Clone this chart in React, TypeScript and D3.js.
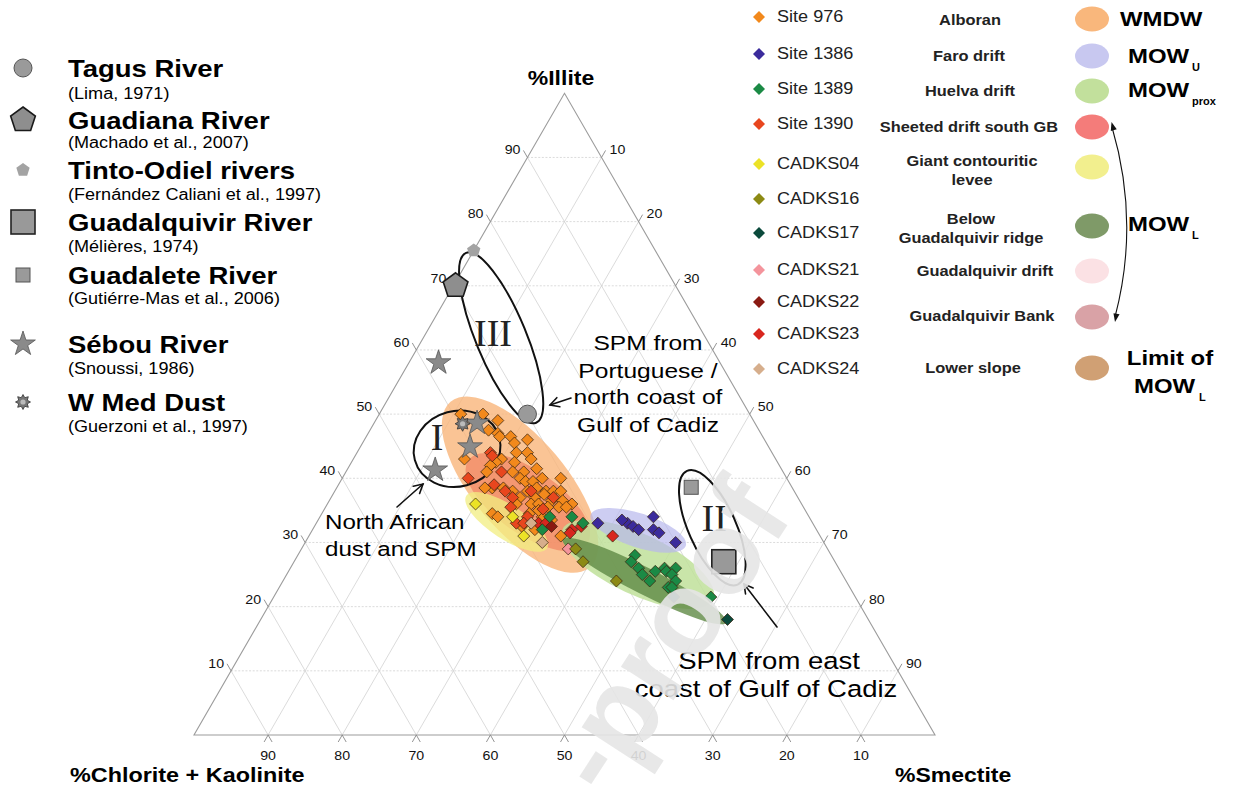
import React from "react";
import * as d3 from "d3";

// each point: [illite %, smectite %]; chlorite + kaolinite is the remainder
const site976: [number, number][] = [
  [50, 11], [50, 14], [49, 16.5], [47.5, 16], [47, 17.5], [46.5, 18], [46.5, 19.5], [45.5, 20.5],
  [46, 22], [44, 21.5], [44, 23], [43, 24], [42.5, 22], [43, 20], [42.5, 19.5], [42, 19], [43, 15],
  [41, 19], [41, 24], [41.5, 25.5], [41, 22.5], [40, 24], [39.5, 25], [39.5, 26], [40, 27], [40, 29.5],
  [38.5, 21], [38.5, 20], [38.5, 22.5], [38, 24], [38, 26], [38.5, 27], [38, 28.5], [38, 29.5],
  [38, 30.5], [37, 25.5], [37, 27.5], [37.5, 28.5], [36.5, 30], [36.5, 31.5], [36, 33], [36, 25.5],
  [36, 27.5], [36, 28.5], [35.5, 31.5], [35.5, 32.5], [35.5, 30], [34.5, 23], [34, 24], [34.5, 28],
  [34, 30], [33.5, 31.5], [32, 30], [31, 34], [32.5, 28], [35, 29],
];
const site1390: [number, number][] = [
  [44, 18], [43.5, 18.5], [41, 21], [40, 17], [38, 23], [37, 24.5], [35.5, 25], [34, 28], [33, 27],
  [37, 30], [39, 21], [35.2, 29.5], [38, 26.5], [33, 28],
];
const cadks23: [number, number][] = [[33, 30], [32, 35], [32.5, 36], [31.5, 35], [31, 41], [33, 31]];
const cadks22: [number, number][] = [[32.5, 32]];
const cadks04: [number, number][] = [[36, 20], [34, 26], [31, 29]];
const cadks24: [number, number][] = [[33, 29], [30, 32]];
const cadks21: [number, number][] = [[29, 36]];
const cadks16: [number, number][] = [[29, 37], [27, 39], [24, 45]];
const site1386: [number, number][] = [
  [33, 38], [33, 42], [32.5, 43], [32, 44], [33.5, 41], [34, 45], [32, 46], [31.5, 47], [30, 50],
];
const site1389: [number, number][] = [
  [34, 31], [34, 34], [32, 31], [33, 36], [28, 45.5], [27, 45.5], [26, 47], [25, 48], [24, 49.5],
  [25.5, 49.5], [26, 50.5], [25.5, 51], [26, 52], [25, 52], [24, 53], [23, 52.5], [23, 53], [21.5, 59],
];
const cadks17: [number, number][] = [[21.5, 54], [18, 63]];

// river / dust sources
const tagus: [number, number][] = [[50, 20]];
const guadiana: [number, number][] = [[70, 0.3]];
const tintoOdiel: [number, number][] = [[75.5, 0]];
const guadalquivir: [number, number][] = [[27, 58]];
const guadalete: [number, number][] = [[38.6, 47.8]];
const sebou: [number, number][] = [[58, 4], [48.6, 13.9], [44.9, 14.8], [41.3, 11.9]];
const wMedDust: [number, number][] = [[48.5, 12]];

// shaded water-mass fields: centre [illite, smectite], half axes (% of side), tilt (deg)
const zoneCentres: [number, number][] = [[39, 24.5], [36.3, 26.9], [33.2, 25.6], [26.6, 46.6], [24, 48.8], [31.9, 44]];
const zoneAxes: [number, number][] = [[14.6, 6.3], [9.8, 4.3], [6.5, 2.3], [11.2, 4.1], [12.4, 1.8], [6.75, 2.3]];
const zoneTilt = [50, 35, 33, 25, 27, 18];

// black loops I, II, III
const loopLabels = ["III", "I", "II"];
const loopCentres: [number, number][] = [[61.9, 10.5], [44.6, 13.2], [32.3, 53.8]];
const loopAxes: [number, number][] = [[12.4, 3.4], [5.9, 5.1], [8.4, 3.2]];
const loopTilt = [67.6, -15, 66];
const loopLabelPos: [number, number][] = [[62.6, 9.05], [46.4, 9.6], [33.8, 53.3]];

const siteNames = ["Site 976", "Site 1386", "Site 1389", "Site 1390", "CADKS04", "CADKS16", "CADKS17", "CADKS21", "CADKS22", "CADKS23", "CADKS24"];
const zoneNames = [["Alboran"], ["Faro drift"], ["Huelva drift"], ["Sheeted drift south GB"], ["Giant contouritic", "levee"], ["Below", "Guadalquivir ridge"], ["Guadalquivir drift"], ["Guadalquivir Bank"], ["Lower slope"]];
const sourceNames = ["Tagus River", "Guadiana River", "Tinto-Odiel rivers", "Guadalquivir River", "Guadalete River", "Sébou River", "W Med Dust"];
const sourceRefs = ["(Lima, 1971)", "(Machado et al., 2007)", "(Fernández Caliani et al., 1997)", " (Mélières, 1974)", " (Gutiérre-Mas et al., 2006)", "(Snoussi, 1986)", "(Guerzoni et al., 1997)"];
const ticks = [10, 20, 30, 40, 50, 60, 70, 80, 90];

const SANS = "'Liberation Sans', Arial, sans-serif";
const SERIF = "'Liberation Serif', 'Times New Roman', serif";

const side = 741;
const x0 = 194;
const base = 735;
const tri = (side * Math.sqrt(3)) / 2;
const xs = d3.scaleLinear().domain([0, 100]).range([x0, x0 + side]);
const ys = d3.scaleLinear().domain([0, 100]).range([base, base - tri]);
const proj = (il: number, sm: number): [number, number] => [xs(sm + il / 2), ys(il)];
const pct = side / 100;

const siteColors = ["#f2891c", "#3b2b9c", "#1b8a45", "#e8461e", "#ece226", "#8c8a14", "#0b4a3c", "#f4949c", "#8a1a12", "#d8261e", "#d6ae8c"];
const siteData = [site976, site1386, site1389, site1390, cadks04, cadks16, cadks17, cadks21, cadks22, cadks23, cadks24];
const drawOrder = [0, 3, 9, 8, 4, 10, 7, 5, 1, 2, 6];
const zoneColors = ["#f9b57a", "#f07a5a", "#f2ee80", "#c0e09a", "#5f8a45", "#b8b8ec"];
const zoneOpacity = [0.8, 0.6, 0.75, 0.85, 0.8, 0.7];
const swatchColors = ["#f9b77c", "#c8c8f0", "#c2e09c", "#f47c7a", "#f2ef8e", "#7f9a68", "#fbe1e4", "#d9a2a6", "#d0a074"];

const square = d3.symbol(d3.symbolSquare, 72)()!;
const legendSquare = d3.symbol(d3.symbolSquare, 72)()!;
const star = d3.symbol(d3.symbolStar, 190)()!;
const radial = d3.lineRadial<number>().curve(d3.curveLinearClosed);
const pentagon = (r: number) =>
  radial.angle((_, i) => (i * 2 * Math.PI) / 5).radius(r)(d3.range(5))!;
const gear = (r: number) =>
  radial.angle((_, i) => (i * 2 * Math.PI) / 16).radius((_, i) => (i % 2 ? r * 0.62 : r))(d3.range(16))!;

function Txt(p: {
  x: number; y: number; size: number; weight?: string; anchor?: string; family?: string;
  sx?: number; fill?: string; children: React.ReactNode;
}) {
  return (
    <text
      transform={`translate(${p.x},${p.y}) scale(${p.sx ?? 1.15},1)`}
      fontSize={p.size}
      fontWeight={p.weight ?? "normal"}
      textAnchor={p.anchor ?? "start"}
      dominantBaseline="central"
      fontFamily={p.family ?? SANS}
      fill={p.fill ?? "#000"}
    >
      {p.children}
    </text>
  );
}

function Arrow({ x1, y1, x2, y2 }: { x1: number; y1: number; x2: number; y2: number }) {
  const a = Math.atan2(y2 - y1, x2 - x1);
  const h = 10;
  const s = 0.5;
  return (
    <g stroke="#111" strokeWidth={1.6} fill="none" strokeLinecap="round">
      <line x1={x1} y1={y1} x2={x2} y2={y2} />
      <polyline
        points={`${x2 - h * Math.cos(a - s)},${y2 - h * Math.sin(a - s)} ${x2},${y2} ${x2 - h * Math.cos(a + s)},${y2 - h * Math.sin(a + s)}`}
      />
    </g>
  );
}

function head(tx: number, ty: number, fx: number, fy: number) {
  const a = Math.atan2(ty - fy, tx - fx);
  const h = 9;
  const s = 0.35;
  return `${tx},${ty} ${tx - h * Math.cos(a - s)},${ty - h * Math.sin(a - s)} ${tx - h * Math.cos(a + s)},${ty - h * Math.sin(a + s)}`;
}

function SourceMark({ kind, x, y }: { kind: number; x: number; y: number }) {
  const t = `translate(${x},${y})`;
  if (kind === 0) return <circle cx={x} cy={y} r={9} fill="#9a9a9a" stroke="#555" strokeWidth={1} />;
  if (kind === 1) return <path d={pentagon(13)} transform={t} fill="#8e8e8e" stroke="#1a1a1a" strokeWidth={1.6} />;
  if (kind === 2) return <path d={pentagon(7)} transform={t} fill="#a3a3a3" />;
  if (kind === 3) return <rect x={x - 12} y={y - 12} width={24} height={24} fill="#999" stroke="#222" strokeWidth={1.6} />;
  if (kind === 4) return <rect x={x - 7} y={y - 7} width={14} height={14} fill="#9a9a9a" stroke="#555" strokeWidth={1} />;
  if (kind === 5) return <path d={star} transform={t} fill="#8a8a8a" stroke="#555" strokeWidth={0.8} />;
  return (
    <g transform={t}>
      <path d={gear(7.5)} fill="#777" stroke="#333" strokeWidth={0.8} />
      <circle r={2.6} fill="#bbb" />
    </g>
  );
}

export default function App() {
  const sources = [tagus, guadiana, tintoOdiel, guadalquivir, guadalete, sebou, wMedDust];
  const srcY = [69, 121, 171, 223, 276, 345, 403];
  const refY = [94, 143, 195, 247, 299, 369, 427];
  const siteY = [17, 54, 89, 124, 164, 199, 233, 270, 302, 334, 369];
  const swY = [19, 56, 91, 127, 167, 226, 271, 317, 368];
  const zoneY = [[20], [56], [91], [127], [161, 180], [219, 238], [271], [316], [368]];
  const zoneX = [970, 969, 970, 969, 972, 971, 985, 982, 973];

  const grid = ticks.flatMap((v) => [
    { a: proj(v, 0), b: proj(v, 100 - v), dash: "2,1.6" },
    { a: proj(0, v), b: proj(100 - v, v), dash: undefined },
    { a: proj(0, 100 - v), b: proj(100 - v, 0), dash: undefined },
  ]);
  const corners = [proj(0, 0), proj(0, 100), proj(100, 0)];

  return (
    <svg width={1238} height={789} style={{ position: "absolute", left: 0, top: 0, display: "block", background: "#fff" }}>
      {/* grid */}
      {grid.map((g, i) => (
        <line key={i} x1={g.a[0]} y1={g.a[1]} x2={g.b[0]} y2={g.b[1]} stroke="#d2d2d2" strokeWidth={0.8} strokeDasharray={g.dash} />
      ))}
      <polygon points={corners.map((c) => c.join(",")).join(" ")} fill="none" stroke="#9c9c9c" strokeWidth={1.1} />

      {/* ticks and labels */}
      {ticks.map((v) => {
        const l = proj(v, 0);
        const r = proj(100 - v, v);
        const b = proj(0, 100 - v);
        return (
          <g key={v} stroke="#888" strokeWidth={0.9}>
            <line x1={l[0]} y1={l[1]} x2={l[0] - 4} y2={l[1] - 7} />
            <line x1={r[0]} y1={r[1]} x2={r[0] + 4} y2={r[1] - 7} />
            <polyline points={`${b[0] - 4},${b[1] + 7} ${b[0]},${b[1]} ${b[0] + 4},${b[1] + 7}`} fill="none" />
            <g stroke="none">
              <Txt x={l[0] - 7} y={l[1] - 8} size={13.5} anchor="end" sx={1.05} fill="#111">{v}</Txt>
              <Txt x={r[0] + 8} y={r[1] - 8} size={13.5} sx={1.05} fill="#111">{v}</Txt>
              <Txt x={b[0]} y={b[1] + 20} size={13.5} anchor="middle" sx={1.05} fill="#111">{v}</Txt>
            </g>
          </g>
        );
      })}

      <Txt x={561} y={78} size={20} weight="bold" anchor="middle" sx={1.15}>%Illite</Txt>
      <Txt x={70} y={775} size={20} weight="bold" sx={1.17}>%Chlorite + Kaolinite</Txt>
      <Txt x={895} y={775} size={20} weight="bold" sx={1.15}>%Smectite</Txt>

      {/* shaded fields */}
      {zoneCentres.map((c, i) => {
        const [cx, cy] = proj(c[0], c[1]);
        return (
          <ellipse key={i} cx={cx} cy={cy} rx={zoneAxes[i][0] * pct} ry={zoneAxes[i][1] * pct}
            transform={`rotate(${zoneTilt[i]},${cx},${cy})`} fill={zoneColors[i]} opacity={zoneOpacity[i]} />
        );
      })}

      {/* loops */}
      {loopCentres.map((c, i) => {
        const [cx, cy] = proj(c[0], c[1]);
        const [lx, ly] = proj(loopLabelPos[i][0], loopLabelPos[i][1]);
        return (
          <g key={i}>
            <ellipse cx={cx} cy={cy} rx={loopAxes[i][0] * pct} ry={loopAxes[i][1] * pct}
              transform={`rotate(${loopTilt[i]},${cx},${cy})`} fill="none" stroke="#111" strokeWidth={2} />
            <Txt x={lx} y={ly} size={38} family={SERIF} anchor="middle" sx={1} fill="#222">{loopLabels[i]}</Txt>
          </g>
        );
      })}

      {/* sample points */}
      {drawOrder.map((s) =>
        siteData[s].map((d, j) => {
          const [x, y] = proj(d[0], d[1]);
          return (
            <path key={`${s}-${j}`} d={square} transform={`translate(${x},${y}) rotate(45)`}
              fill={siteColors[s]} stroke="#3a2410" strokeWidth={0.7} />
          );
        })
      )}

      {/* sources */}
      {sources.map((src, k) =>
        src.map((d, j) => {
          const [x, y] = proj(d[0], d[1]);
          return <SourceMark key={`${k}-${j}`} kind={k} x={x} y={y} />;
        })
      )}

      {/* annotations */}
      {["SPM from", "Portuguese /", "north coast of", "Gulf of Cadiz"].map((t, i) => (
        <Txt key={t} x={648} y={[343, 371, 397, 425][i]} size={21} anchor="middle" sx={1.17}>{t}</Txt>
      ))}
      <Arrow x1={571} y1={398} x2={550} y2={405} />
      <Txt x={325} y={522} size={21} sx={1.15}>North African</Txt>
      <Txt x={325} y={549} size={21} sx={1.15}>dust and SPM</Txt>
      <Arrow x1={397} y1={507} x2={423} y2={484} />
      <Txt x={769} y={661} size={23.5} anchor="middle" sx={1.17}>SPM from east</Txt>
      <Txt x={766} y={689} size={23.5} anchor="middle" sx={1.17}>coast of Gulf of Cadiz</Txt>
      <Arrow x1={777} y1={627} x2={744} y2={584} />

      {/* left legend */}
      {sourceNames.map((n, k) => (
        <g key={n}>
          <SourceMark kind={k} x={23} y={srcY[k] - 1} />
          <Txt x={68} y={srcY[k]} size={23.5} weight="bold" sx={1.17}>{n}</Txt>
          <Txt x={68} y={refY[k]} size={16} sx={1.13}>{sourceRefs[k]}</Txt>
        </g>
      ))}

      {/* right legend */}
      {siteNames.map((n, i) => (
        <g key={n}>
          <path d={legendSquare} transform={`translate(759,${siteY[i]}) rotate(45)`} fill={siteColors[i]} />
          <Txt x={777} y={siteY[i]} size={16} sx={1.13} fill="#222">{n}</Txt>
        </g>
      ))}
      {zoneNames.map((lines, i) => (
        <g key={i}>
          {lines.map((t, j) => (
            <Txt key={t} x={zoneX[i]} y={zoneY[i][j]} size={14.5} weight="bold" anchor="middle" sx={1.13} fill="#222">{t}</Txt>
          ))}
          <ellipse cx={1092} cy={swY[i]} rx={17} ry={12.5} fill={swatchColors[i]} />
        </g>
      ))}
      <Txt x={1120} y={19} size={21} weight="bold" sx={1.14}>WMDW</Txt>
      <Txt x={1128} y={56} size={21} weight="bold" sx={1.14}>MOW</Txt>
      <Txt x={1192} y={67} size={10} weight="bold" sx={1.1}>U</Txt>
      <Txt x={1128} y={90} size={21} weight="bold" sx={1.14}>MOW</Txt>
      <Txt x={1192} y={101} size={10} weight="bold" sx={1.1}>prox</Txt>
      <Txt x={1128} y={224} size={21} weight="bold" sx={1.14}>MOW</Txt>
      <Txt x={1192} y={235} size={10} weight="bold" sx={1.1}>L</Txt>
      <Txt x={1170} y={358} size={21} weight="bold" anchor="middle" sx={1.14}>Limit of</Txt>
      <Txt x={1134} y={386} size={21} weight="bold" sx={1.14}>MOW</Txt>
      <Txt x={1199} y={397} size={10} weight="bold" sx={1.1}>L</Txt>
      <path d="M1112,127 Q1140,222 1115,317" fill="none" stroke="#111" strokeWidth={1.1} />
      <polygon points={head(1111.5, 122, 1118, 145)} fill="#111" />
      <polygon points={head(1115, 322, 1119, 300)} fill="#111" />

      {/* watermark */}
      <text transform="translate(794,515) rotate(-57)" fontSize={118} fontWeight="bold" fontFamily={SANS}
        textAnchor="end" fill="#e6e6e6" opacity={0.9}>
        -proof
      </text>
    </svg>
  );
}
